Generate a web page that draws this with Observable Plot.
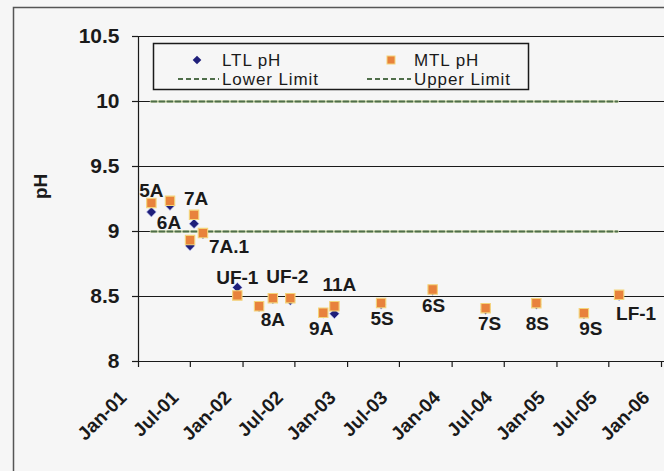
<!DOCTYPE html>
<html><head><meta charset="utf-8">
<script src="https://cdn.jsdelivr.net/npm/d3@7"></script>
<script src="https://cdn.jsdelivr.net/npm/@observablehq/plot@0.6"></script>
<style>
html,body{margin:0;padding:0;background:#f6f6f6;}
#chart{position:relative;width:664px;height:471px;overflow:hidden;background:#f6f6f6;}
</style></head><body><div id="chart"></div>
<script>
// ---- data ----
const sampleDates = ["2001-02-15","2001-04-21","2001-06-30","2001-07-14","2001-08-14","2001-12-12","2002-02-26","2002-04-15","2002-06-15","2002-10-08","2002-11-16","2003-04-28","2003-10-25","2004-04-27","2004-10-21","2005-04-05","2005-08-06"];
const ltlPH = [9.15, 9.20, 8.89, 9.06, 8.98, 8.57, 8.42, 8.48, 8.47, 8.37, 8.367, 8.44, 8.545, 8.40, 8.44, 8.365, 8.505];
const mtlPH = [9.22, 9.236, 8.934, 9.128, 8.988, 8.508, 8.425, 8.487, 8.487, 8.375, 8.425, 8.45, 8.554, 8.41, 8.449, 8.372, 8.513];
const sampleLabels = ["5A","6A","","7A","7A.1","UF-1","","8A","UF-2","9A","11A","5S","6S","7S","8S","9S","LF-1"];
const lowerLimit = 9;
const upperLimit = 10;
const limitDates = ["2001-02-15","2005-07-31"];
const yTicks = [8, 8.5, 9, 9.5, 10, 10.5];
const xTickDates = ["2001-01-01","2001-07-01","2002-01-01","2002-07-01","2003-01-01","2003-07-01","2004-01-01","2004-07-01","2005-01-01","2005-07-01","2006-01-01"];
const xTickLabels = ["Jan-01","Jul-01","Jan-02","Jul-02","Jan-03","Jul-03","Jan-04","Jul-04","Jan-05","Jul-05","Jan-06"];
const seriesNames = ["LTL pH","MTL pH","Lower Limit","Upper Limit"];

// label placement (pixel offsets from the MTL point)
const labelOffsets = {
  "5A":[0,-12], "6A":[-1,22], "7A":[2,-16], "7A.1":[26,14], "UF-1":[0,-18],
  "8A":[0,22], "UF-2":[-3,-21], "9A":[-2,16], "11A":[5,-21], "5S":[1,16],
  "6S":[1,16], "7S":[4,16], "8S":[1,21], "9S":[7,16], "LF-1":[17,19]
};

const parse = d3.utcParse("%Y-%m-%d");
const rows = sampleDates.map((d, i) => ({date: parse(d), ltl: ltlPH[i], mtl: mtlPH[i], label: sampleLabels[i]}));
const limits = [
  ...limitDates.map(d => ({date: parse(d), v: lowerLimit, s: "Lower Limit"})),
  ...limitDates.map(d => ({date: parse(d), v: upperLimit, s: "Upper Limit"}))
];
const xt = xTickDates.map(parse);

const FONT = "'Liberation Sans', Arial, sans-serif";
const INK = "#1a1a1a";
const NAVY = "#1f1f7a";
const ORANGE = "#e8823c";
const GREEN = "#4f6e4a";

const labelMarks = rows.filter(r => r.label).map(r => {
  const [dx, dy] = labelOffsets[r.label] || [0, 0];
  return Plot.text([r], {x: "date", y: "mtl", text: "label", dx, dy,
    fontSize: 19, fontWeight: "bold", fill: INK, textAnchor: "middle", lineAnchor: "middle"});
});

const chart = Plot.plot({
  width: 664, height: 471,
  marginLeft: 138, marginRight: 3, marginTop: 36, marginBottom: 110,
  style: {fontFamily: FONT, background: "#f6f6f6", overflow: "visible"},
  x: {type: "utc", domain: [parse("2001-01-01"), parse("2006-01-01")], axis: null},
  y: {domain: [8, 10.5], axis: null},
  marks: [
    Plot.ruleY(yTicks, {stroke: INK, strokeWidth: 1.2, insetRight: -3}),
    Plot.ruleX([parse("2001-01-01")], {stroke: INK, strokeWidth: 1.2}),
    Plot.line(limits, {x: "date", y: "v", z: "s", stroke: "#dfe6c4", strokeWidth: 3}),
    Plot.line(limits, {x: "date", y: "v", z: "s", stroke: GREEN, strokeWidth: 2, strokeDasharray: "5,3"}),
    Plot.dot(rows, {x: "date", y: "ltl", symbol: "diamond2", r: 4.4, fill: NAVY, stroke: "#c9d0ff", strokeWidth: 0.6}),
    Plot.dot(rows, {x: "date", y: "mtl", symbol: "square", r: 5.3, fill: ORANGE, stroke: "#f4d479", strokeWidth: 1.1}),
    ...labelMarks,
    Plot.axisY({ticks: yTicks, tickSize: 6, tickPadding: 13, fontSize: 21, fontWeight: "bold",
      tickFormat: d => String(d), label: null, stroke: INK, fill: INK, strokeWidth: 1.2}),
    Plot.axisX({ticks: xt, tickSize: 6, tickFormat: () => null, label: null, stroke: INK, strokeWidth: 1.2}),
    Plot.text(xt, {x: d => d, frameAnchor: "bottom", text: (d, i) => xTickLabels[i],
      rotate: -45, textAnchor: "end", lineAnchor: "middle", dx: -15, dy: 33,
      fontSize: 19, fontWeight: "bold", fill: INK}),
    Plot.text(["pH"], {frameAnchor: "left", dx: -98, rotate: -90, fontSize: 19, fontWeight: "bold", fill: INK})
  ]
});

document.getElementById("chart").appendChild(chart);

// outer chart border and legend drawn into the same SVG
const svg = d3.select(chart);
svg.insert("rect", ":first-child")
  .attr("x", 13.5).attr("y", 7.5).attr("width", 720).attr("height", 520)
  .attr("fill", "none").attr("stroke", "#555").attr("stroke-width", 1.5);

const lg = svg.append("g").attr("font-family", FONT).attr("font-size", 17).attr("fill", INK)
  .attr("text-anchor", "start").attr("letter-spacing", "0.9px");
lg.append("rect").attr("x", 153.5).attr("y", 43.5).attr("width", 375).attr("height", 46)
  .attr("fill", "#f6f6f6").attr("stroke", INK).attr("stroke-width", 1.5);
// row 1 symbols
lg.append("path").attr("d", d3.symbol(d3.symbolDiamond2, 48)()).attr("transform", "translate(197,60)").attr("fill", NAVY);
lg.append("rect").attr("x", 387).attr("y", 56).attr("width", 8).attr("height", 8).attr("fill", ORANGE).attr("stroke", "#f4d479");
// row 2 dashed samples
[[178, 219], [367, 411]].forEach(([a, b]) => {
  lg.append("line").attr("x1", a).attr("x2", b).attr("y1", 79).attr("y2", 79)
    .attr("stroke", GREEN).attr("stroke-width", 2).attr("stroke-dasharray", "5,3");
});
const legendText = [[seriesNames[0], 222, 60], [seriesNames[1], 414, 60], [seriesNames[2], 222, 79], [seriesNames[3], 414, 79]];
legendText.forEach(([t, x, y]) => {
  lg.append("text").attr("x", x).attr("y", y).attr("dy", "0.35em").attr("text-anchor", "start").text(t);
});
</script>
</body></html>
